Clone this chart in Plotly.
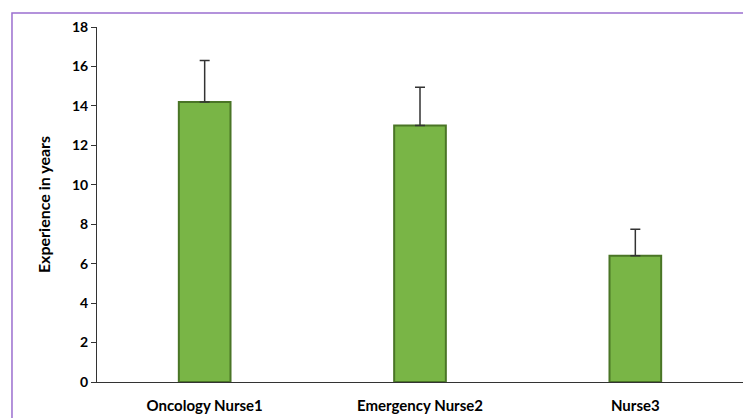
import plotly.graph_objects as go

categories = ["Oncology Nurse1", "Emergency Nurse2", "Nurse3"]
experience = [14.2, 13.0, 6.4]
error_up = [2.1, 1.95, 1.35]
y_ticks = [0, 2, 4, 6, 8, 10, 12, 14, 16, 18]

fig = go.Figure()
fig.add_trace(go.Bar(
    x=categories, y=experience,
    marker=dict(color="#79b546", line=dict(color="#4a7526", width=2)),
    error_y=dict(type="data", array=error_up, arrayminus=[0] * len(error_up),
                 symmetric=False, color="#333333", thickness=1.5, width=5),
    width=0.24,
))

fig.update_layout(
    width=743, height=418,
    margin=dict(l=97, r=0, t=27, b=36, autoexpand=False),
    plot_bgcolor="white", paper_bgcolor="white",
    showlegend=False,
    xaxis=dict(showline=True, linecolor="#333333", linewidth=1, ticks="",
               tickfont=dict(family="Lato, sans-serif", size=15, color="#000", weight=700),
               ticklabelstandoff=10,
               showgrid=False, automargin=False),
    yaxis=dict(range=[0, 18], tickvals=y_ticks, showline=True, linecolor="#333333",
               linewidth=1, ticks="outside", ticklen=5, tickcolor="#333333",
               showgrid=False, zeroline=False, automargin=False,
               tickfont=dict(family="Lato, sans-serif", size=14, color="#000", weight=700),
               title=dict(text="Experience in years",
                          font=dict(family="Lato, sans-serif", size=16, color="#000", weight=700),
                          standoff=17)),
    shapes=[dict(type="rect", xref="paper", yref="paper",
                 x0=-0.1316, x1=1.05, y0=-0.3, y1=1.0394,
                 line=dict(color="#9b6fcf", width=1.5), layer="below")],
)
fig.write_html("out.html", config={"displayModeBar": False},
               post_script="document.body.style.margin='0';document.body.style.overflow='hidden';")
